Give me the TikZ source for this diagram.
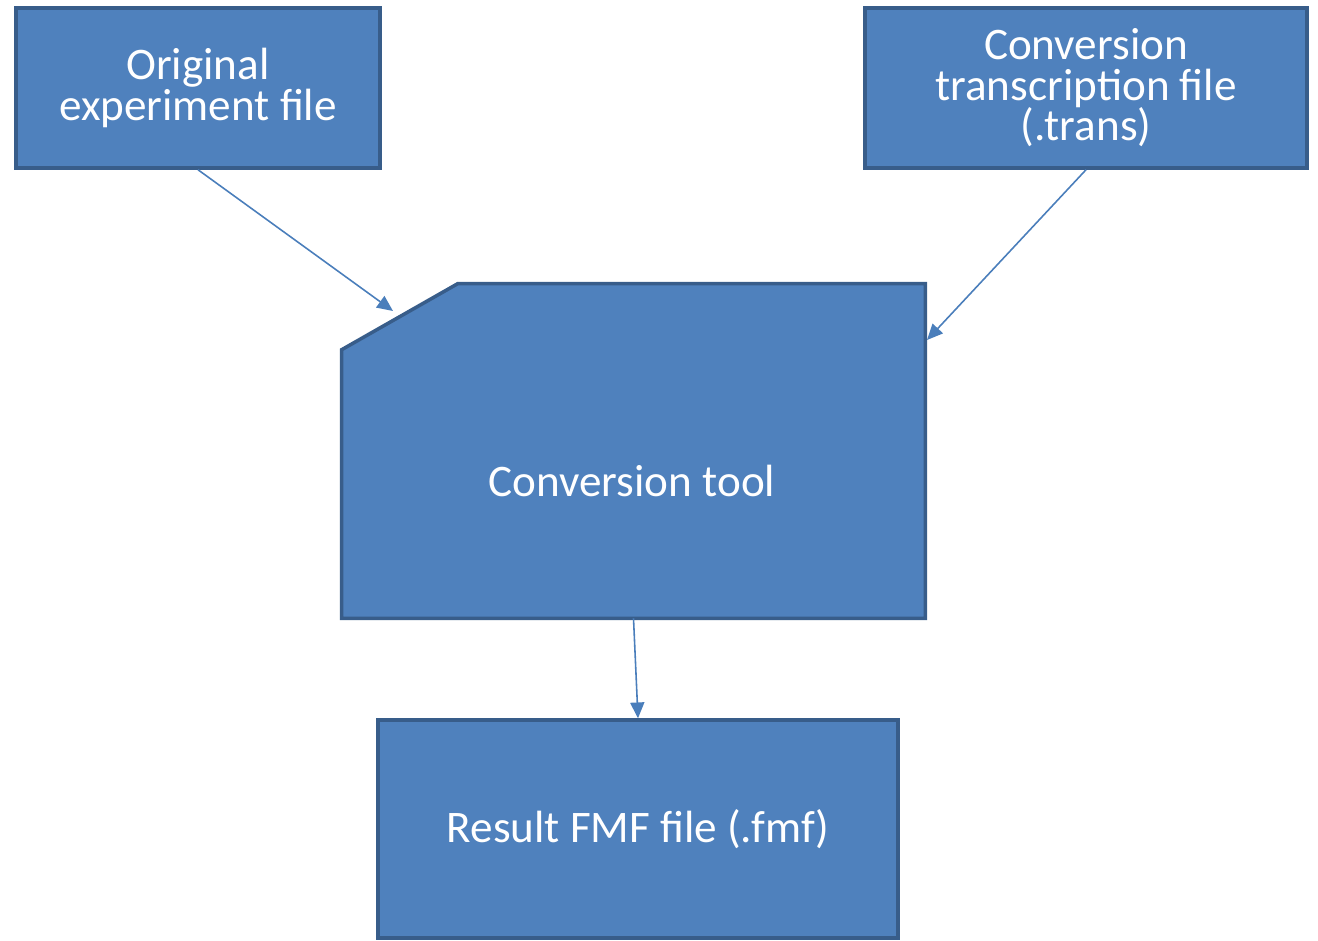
\documentclass[tikz,border=0pt]{standalone}
\usepackage{fontspec}
\setmainfont{Carlito}
\usetikzlibrary{arrows.meta, calc}
\definecolor{boxfill}{HTML}{4F81BD}
\definecolor{boxline}{HTML}{385D8A}
\definecolor{arrowcol}{HTML}{4A7EBB}
\tikzset{
  block/.style={
    rectangle,
    draw=boxline,
    line width=2pt,
    fill=boxfill,
    text=white,
    align=center,
    inner sep=0pt,
    font=\fontsize{25.7}{23}\selectfont
  }
}
\tikzstyle{arrow} = [-{Triangle[length=9pt,width=8pt]}, line width=0.9pt, draw=arrowcol, fill=arrowcol]
\def\lbl#1{\fontsize{25.7}{23}\selectfont #1}

\begin{document}
\begin{tikzpicture}[x=0.02cm, y=-0.02cm]
    \useasboundingbox (0,0) rectangle (1318,940);
    \node[block, minimum width=7.28cm, minimum height=3.2cm] (orig) at (198,88) {Original\\experiment file};
    \node[block, minimum width=8.84cm, minimum height=3.2cm] (trans) at (1086,88) {Conversion\\transcription file\\(.trans)};
    \node[rectangle, inner sep=0pt, minimum width=11.66cm, minimum height=6.68cm] (tool) at (633.5,451) {};
    \draw[line width=2pt, draw=boxline, fill=boxfill]
      ($(tool.north west)+(0,66)$) -- ($(tool.north west)+(116,0)$) -- (tool.north east)
      -- (tool.south east) -- (tool.south west) -- cycle;
    \node[text=white, align=center] (toollbl) at (632,481) {\lbl{Conversion tool}};
    \node[block, minimum width=10.4cm, minimum height=4.36cm] (result) at (638,829) {Result FMF file (.fmf)};
    \coordinate (tip1) at (393,311);
    \coordinate (tip2) at (927,340);
    \draw[arrow] (orig.south) -- (tip1);
    \draw[arrow] (trans.south) -- (tip2);
    \draw[arrow] (tool.south) -- (result.north);
\end{tikzpicture}
\end{document}
